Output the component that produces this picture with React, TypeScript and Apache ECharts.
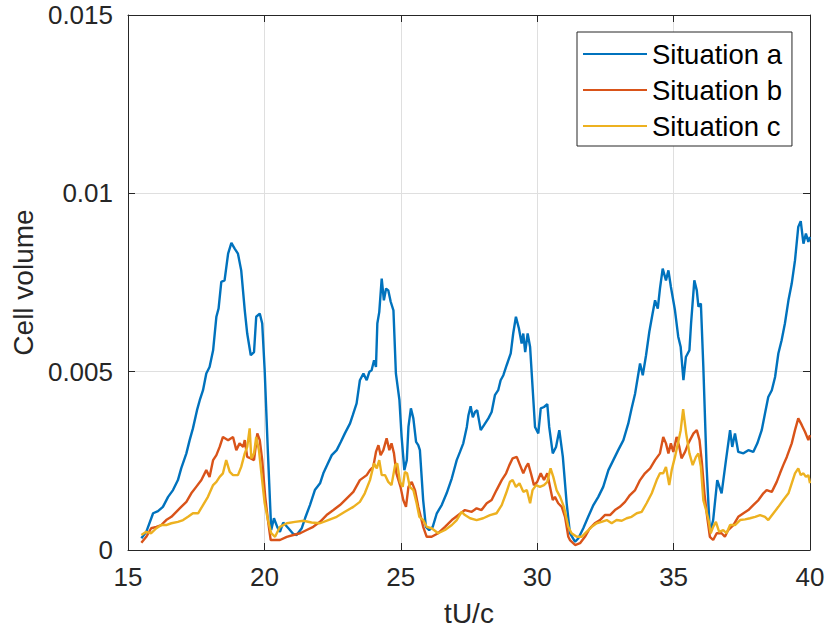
import React, { useEffect, useRef } from "react";
import * as echarts from "echarts";

const xTicks = { min: 15, max: 40, interval: 5 };
const yTicks = { min: 0, max: 0.015, interval: 0.005 };
const seriesNames = ["Situation a", "Situation b", "Situation c"];
const xLabel = "tU/c";
const yLabel = "Cell volume";

const situationA: [number, number][] = [
  [15.49,0.00033],[15.67,0.00051],[15.92,0.00103],[16.10,0.00109],[16.28,0.00121],[16.47,0.00149],[16.65,0.00168],[16.83,0.00196],[16.95,0.00229],[17.14,0.00271],[17.26,0.00308],[17.38,0.00341],[17.53,0.00392],[17.63,0.00420],[17.75,0.00448],[17.87,0.00495],[17.99,0.00513],[18.12,0.00560],[18.24,0.00654],[18.32,0.00677],[18.42,0.00752],[18.54,0.00756],[18.67,0.00831],[18.79,0.00861],[18.91,0.00845],[19.03,0.00831],[19.15,0.00784],[19.28,0.00672],[19.37,0.00607],[19.50,0.00546],[19.62,0.00555],[19.70,0.00654],[19.83,0.00663],[19.92,0.00635],[20.01,0.00504],[20.13,0.00271],[20.25,0.00056],
  [20.35,0.00089],[20.47,0.00065],[20.57,0.00051],[20.69,0.00077],[20.88,0.00061],[21.06,0.00045],[21.18,0.00042],[21.37,0.00061],[21.49,0.00089],[21.67,0.00126],[21.85,0.00168],[22.04,0.00187],[22.16,0.00215],[22.30,0.00238],[22.47,0.00266],[22.65,0.00280],[22.80,0.00303],[22.95,0.00327],[23.14,0.00355],[23.24,0.00378],[23.38,0.00411],[23.50,0.00476],[23.63,0.00495],[23.75,0.00476],[23.85,0.00500],[23.93,0.00504],[24.02,0.00532],[24.09,0.00513],[24.14,0.00635],[24.21,0.00667],[24.30,0.00761],[24.38,0.00700],[24.46,0.00733],[24.54,0.00728],[24.63,0.00696],[24.73,0.00672],[24.82,0.00495],[24.95,0.00420],[25.03,0.00317],[25.13,0.00224],[25.22,0.00252],[25.28,0.00345],[25.37,0.00397],[25.46,0.00369],[25.56,0.00303],[25.64,0.00294],
  [25.70,0.00280],[25.82,0.00140],[25.92,0.00065],[26.04,0.00056],[26.17,0.00065],[26.32,0.00103],[26.50,0.00126],[26.68,0.00159],[26.87,0.00201],[27.05,0.00252],[27.17,0.00275],[27.29,0.00299],[27.42,0.00345],[27.48,0.00378],[27.56,0.00403],[27.64,0.00372],[27.72,0.00387],[27.80,0.00392],[27.93,0.00336],[28.05,0.00350],[28.21,0.00369],[28.33,0.00387],[28.45,0.00434],[28.57,0.00448],[28.66,0.00476],[28.76,0.00490],[28.88,0.00518],[29.03,0.00551],[29.12,0.00607],[29.22,0.00654],[29.33,0.00621],[29.43,0.00579],[29.49,0.00607],[29.56,0.00555],[29.65,0.00607],[29.74,0.00569],[29.83,0.00457],[29.92,0.00345],[30.04,0.00327],[30.13,0.00397],[30.25,0.00401],[30.37,0.00409],[30.44,0.00345],[30.57,0.00271],[30.69,0.00289],[30.81,0.00336],[30.94,0.00261],[31.08,0.00131],[31.20,0.00047],
  [31.39,0.00023],[31.51,0.00033],[31.69,0.00061],[31.87,0.00093],[32.06,0.00126],[32.24,0.00149],[32.42,0.00177],[32.61,0.00224],[32.79,0.00252],[32.97,0.00280],[33.16,0.00308],[33.34,0.00355],[33.46,0.00397],[33.59,0.00439],[33.71,0.00495],[33.77,0.00523],[33.87,0.00490],[33.99,0.00546],[34.11,0.00612],[34.23,0.00663],[34.32,0.00700],[34.42,0.00677],[34.50,0.00733],[34.60,0.00789],[34.72,0.00756],[34.81,0.00784],[34.90,0.00738],[35.05,0.00672],[35.17,0.00598],[35.26,0.00569],[35.36,0.00476],[35.45,0.00541],[35.58,0.00560],
  [35.64,0.00635],[35.76,0.00756],[35.85,0.00728],[35.91,0.00682],[36.00,0.00691],[36.09,0.00513],[36.21,0.00233],[36.33,0.00047],[36.45,0.00084],[36.60,0.00196],[36.76,0.00159],[36.92,0.00252],[37.07,0.00336],[37.15,0.00289],[37.25,0.00327],[37.37,0.00275],[37.56,0.00271],[37.74,0.00280],[37.92,0.00275],[38.07,0.00299],[38.23,0.00336],[38.35,0.00383],[38.47,0.00429],[38.60,0.00448],[38.72,0.00485],[38.84,0.00551],[38.96,0.00588],[39.08,0.00635],[39.21,0.00700],[39.33,0.00747],[39.45,0.00812],[39.57,0.00906],[39.66,0.00922],[39.76,0.00859],[39.85,0.00887],[39.94,0.00864],[40.0,0.00878],
];

const situationB: [number, number][] = [
  [15.49,0.00020],[15.67,0.00037],[15.85,0.00061],[16.04,0.00065],[16.22,0.00070],[16.40,0.00084],[16.59,0.00093],[16.77,0.00107],[16.95,0.00121],[17.14,0.00135],[17.32,0.00159],[17.50,0.00177],[17.69,0.00196],[17.87,0.00224],[17.99,0.00205],[18.12,0.00252],[18.24,0.00266],[18.36,0.00289],[18.48,0.00317],[18.67,0.00308],[18.85,0.00317],[18.97,0.00280],[19.09,0.00299],[19.22,0.00289],[19.28,0.00308],[19.37,0.00261],[19.50,0.00257],[19.62,0.00252],[19.74,0.00327],[19.83,0.00308],[19.92,0.00252],[20.03,0.00149],[20.13,0.00084],[20.23,0.00028],
  [20.57,0.00028],[20.82,0.00037],[21.06,0.00042],[21.31,0.00047],[21.55,0.00056],[21.79,0.00065],[22.04,0.00079],[22.28,0.00098],[22.53,0.00112],[22.77,0.00126],[23.02,0.00145],[23.26,0.00163],[23.50,0.00196],[23.75,0.00210],[23.87,0.00224],[23.99,0.00233],[24.09,0.00275],[24.18,0.00294],[24.26,0.00266],[24.36,0.00280],[24.48,0.00313],[24.58,0.00280],[24.66,0.00299],[24.75,0.00271],[24.84,0.00215],[24.99,0.00177],[25.09,0.00140],[25.19,0.00121],[25.28,0.00177],[25.40,0.00191],[25.52,0.00168],[25.64,0.00121],
  [25.70,0.00103],[25.82,0.00065],[25.95,0.00037],[26.13,0.00037],[26.37,0.00047],[26.62,0.00065],[26.87,0.00084],[27.11,0.00098],[27.35,0.00112],[27.60,0.00107],[27.78,0.00117],[27.96,0.00112],[28.15,0.00131],[28.33,0.00140],[28.51,0.00168],[28.70,0.00196],[28.86,0.00215],[28.98,0.00238],[29.10,0.00257],[29.25,0.00261],[29.37,0.00238],[29.49,0.00215],[29.59,0.00233],[29.67,0.00243],[29.77,0.00215],[29.88,0.00182],[30.00,0.00191],[30.13,0.00215],[30.25,0.00196],[30.37,0.00215],[30.47,0.00177],[30.57,0.00140],[30.65,0.00149],[30.77,0.00131],[30.90,0.00121],[31.02,0.00093],[31.14,0.00037],
  [31.20,0.00028],[31.39,0.00014],[31.57,0.00019],[31.75,0.00037],[31.93,0.00061],[32.11,0.00075],[32.30,0.00084],[32.48,0.00098],[32.67,0.00098],[32.85,0.00112],[33.03,0.00121],[33.22,0.00135],[33.40,0.00154],[33.59,0.00168],[33.77,0.00196],[33.95,0.00215],[34.14,0.00229],[34.32,0.00252],[34.50,0.00271],[34.62,0.00317],[34.72,0.00299],[34.81,0.00271],[34.90,0.00299],[34.99,0.00275],[35.11,0.00317],[35.21,0.00289],[35.29,0.00257],[35.42,0.00275],[35.54,0.00299],
  [35.60,0.00308],[35.73,0.00327],[35.85,0.00336],[35.95,0.00308],[36.04,0.00243],[36.13,0.00159],[36.23,0.00093],[36.33,0.00037],[36.45,0.00028],[36.58,0.00047],[36.76,0.00047],[36.88,0.00037],[37.00,0.00056],[37.19,0.00070],[37.37,0.00093],[37.56,0.00103],[37.74,0.00112],[37.92,0.00126],[38.11,0.00140],[38.29,0.00159],[38.41,0.00168],[38.60,0.00163],[38.78,0.00191],[38.90,0.00215],[39.02,0.00238],[39.15,0.00261],[39.33,0.00299],[39.45,0.00336],[39.57,0.00369],[39.70,0.00350],[39.82,0.00331],[39.94,0.00308],[40.0,0.00322],
];

const situationC: [number, number][] = [
  [15.49,0.00042],[15.67,0.00051],[15.85,0.00047],[16.04,0.00061],[16.22,0.00070],[16.40,0.00070],[16.59,0.00075],[16.83,0.00079],[17.02,0.00084],[17.20,0.00093],[17.38,0.00103],[17.57,0.00103],[17.75,0.00126],[17.93,0.00149],[18.12,0.00182],[18.24,0.00191],[18.36,0.00205],[18.48,0.00215],[18.60,0.00252],[18.73,0.00219],[18.85,0.00210],[19.03,0.00210],[19.15,0.00233],[19.28,0.00271],[19.37,0.00289],[19.46,0.00341],[19.52,0.00257],[19.62,0.00271],[19.70,0.00317],[19.80,0.00280],[19.89,0.00215],[20.01,0.00131],[20.13,0.00084],[20.25,0.00047],
  [20.39,0.00037],[20.57,0.00065],[20.82,0.00075],[21.12,0.00079],[21.43,0.00082],[21.73,0.00077],[22.04,0.00075],[22.34,0.00084],[22.65,0.00093],[22.95,0.00107],[23.26,0.00121],[23.50,0.00135],[23.68,0.00159],[23.87,0.00196],[24.02,0.00243],[24.12,0.00229],[24.21,0.00252],[24.30,0.00210],[24.42,0.00210],[24.54,0.00191],[24.66,0.00182],[24.79,0.00238],[24.87,0.00243],[24.97,0.00191],[25.07,0.00177],[25.15,0.00219],[25.23,0.00215],[25.33,0.00177],[25.46,0.00168],[25.58,0.00131],[25.68,0.00093],
  [25.82,0.00084],[25.95,0.00065],[26.13,0.00061],[26.37,0.00047],[26.62,0.00056],[26.87,0.00070],[27.05,0.00084],[27.23,0.00107],[27.35,0.00098],[27.54,0.00089],[27.78,0.00084],[28.02,0.00089],[28.27,0.00098],[28.51,0.00103],[28.70,0.00126],[28.86,0.00159],[29.00,0.00191],[29.10,0.00196],[29.22,0.00177],[29.35,0.00187],[29.49,0.00163],[29.62,0.00168],[29.74,0.00131],[29.83,0.00168],[29.96,0.00182],[30.10,0.00177],[30.25,0.00182],[30.37,0.00191],[30.49,0.00229],[30.59,0.00205],[30.71,0.00168],[30.84,0.00149],[30.98,0.00121],[31.14,0.00065],
  [31.26,0.00047],[31.45,0.00037],[31.63,0.00037],[31.81,0.00051],[32.00,0.00065],[32.18,0.00075],[32.36,0.00079],[32.55,0.00084],[32.73,0.00075],[32.91,0.00084],[33.10,0.00082],[33.28,0.00089],[33.46,0.00093],[33.65,0.00103],[33.83,0.00107],[34.01,0.00131],[34.20,0.00159],[34.38,0.00196],[34.50,0.00215],[34.62,0.00215],[34.72,0.00233],[34.84,0.00182],[34.93,0.00224],[35.05,0.00261],[35.17,0.00303],[35.26,0.00336],[35.35,0.00395],[35.46,0.00327],
  [35.58,0.00271],[35.70,0.00238],[35.82,0.00261],[35.91,0.00271],[36.00,0.00233],[36.09,0.00140],[36.19,0.00112],[36.28,0.00084],[36.36,0.00047],[36.45,0.00065],[36.55,0.00079],[36.67,0.00051],[36.82,0.00056],[36.94,0.00047],[37.07,0.00070],[37.25,0.00070],[37.44,0.00084],[37.62,0.00086],[37.80,0.00089],[37.99,0.00093],[38.17,0.00098],[38.35,0.00093],[38.47,0.00084],[38.66,0.00103],[38.84,0.00121],[39.02,0.00140],[39.21,0.00159],[39.33,0.00187],[39.45,0.00215],[39.57,0.00229],[39.66,0.00210],[39.76,0.00215],[39.85,0.00205],[39.94,0.00210],[40.0,0.00187],
];

const seriesData = [situationA, situationB, situationC];
const colors = ["#0072BD", "#D95319", "#EDB120"];

const FONT = "'Liberation Sans', Arial, Helvetica, sans-serif";
const AXIS_COLOR = "#262626";

export default function App() {
  const ref = useRef<HTMLDivElement>(null);
  useEffect(() => {
    if (!ref.current) return;
    const chart = echarts.init(ref.current, undefined, { renderer: "svg" });
    const mirrorAxis = {
      show: true,
      axisLine: { show: true, onZero: false, lineStyle: { color: AXIS_COLOR, width: 1 } },
      axisTick: { show: true, inside: true, length: 7, lineStyle: { color: AXIS_COLOR } },
      axisLabel: { show: false },
      splitLine: { show: false },
    };
    chart.setOption({
      animation: false,
      backgroundColor: "#ffffff",
      textStyle: { fontFamily: FONT },
      grid: { left: 128, right: 20, top: 15, bottom: 85, containLabel: false },
      legend: {
        orient: "vertical",
        left: 577,
        top: 32,
        data: seriesNames,
        icon: "rect",
        backgroundColor: "#ffffff",
        borderColor: AXIS_COLOR,
        borderWidth: 1,
        borderRadius: 0,
        padding: [8, 10, 6, 6],
        itemWidth: 64,
        itemHeight: 2,
        itemGap: 8,
        textStyle: { fontSize: 27.5, color: "#000", fontFamily: FONT, lineHeight: 26 },
      },
      xAxis: [
        {
          type: "value",
          position: "bottom",
          min: xTicks.min,
          max: xTicks.max,
          interval: xTicks.interval,
          name: xLabel,
          nameLocation: "middle",
          nameGap: 49,
          nameTextStyle: { fontSize: 28, color: AXIS_COLOR, fontFamily: FONT },
          axisLine: { show: true, onZero: false, lineStyle: { color: AXIS_COLOR, width: 1 } },
          axisTick: { show: true, inside: true, length: 7, lineStyle: { color: AXIS_COLOR } },
          axisLabel: { fontSize: 26, color: AXIS_COLOR, margin: 14, fontFamily: FONT },
          splitLine: { show: true, lineStyle: { color: "#dfdfdf", width: 1 } },
        },
        {
          type: "value",
          position: "top",
          min: xTicks.min,
          max: xTicks.max,
          interval: xTicks.interval,
          ...mirrorAxis,
        },
      ],
      yAxis: [
        {
          type: "value",
          position: "left",
          min: yTicks.min,
          max: yTicks.max,
          interval: yTicks.interval,
          name: yLabel,
          nameLocation: "middle",
          nameGap: 86,
          nameTextStyle: { fontSize: 28, color: AXIS_COLOR, fontFamily: FONT },
          axisLine: { show: true, onZero: false, lineStyle: { color: AXIS_COLOR, width: 1 } },
          axisTick: { show: true, inside: true, length: 7, lineStyle: { color: AXIS_COLOR } },
          axisLabel: { fontSize: 26, color: AXIS_COLOR, margin: 15, fontFamily: FONT },
          splitLine: { show: true, lineStyle: { color: "#dfdfdf", width: 1 } },
        },
        {
          type: "value",
          position: "right",
          min: yTicks.min,
          max: yTicks.max,
          interval: yTicks.interval,
          ...mirrorAxis,
        },
      ],
      series: seriesNames.map((name, i) => ({
        name,
        type: "line",
        xAxisIndex: 0,
        yAxisIndex: 0,
        data: seriesData[i],
        showSymbol: false,
        symbol: "none",
        color: colors[i],
        itemStyle: { color: colors[i] },
        lineStyle: { color: colors[i], width: 2.4 },
        z: 2 + i,
      })),
    });
    return () => chart.dispose();
  }, []);
  return (
    <div
      ref={ref}
      style={{ position: "fixed", left: 0, top: 0, width: 830, height: 635, background: "#fff" }}
    />
  );
}
